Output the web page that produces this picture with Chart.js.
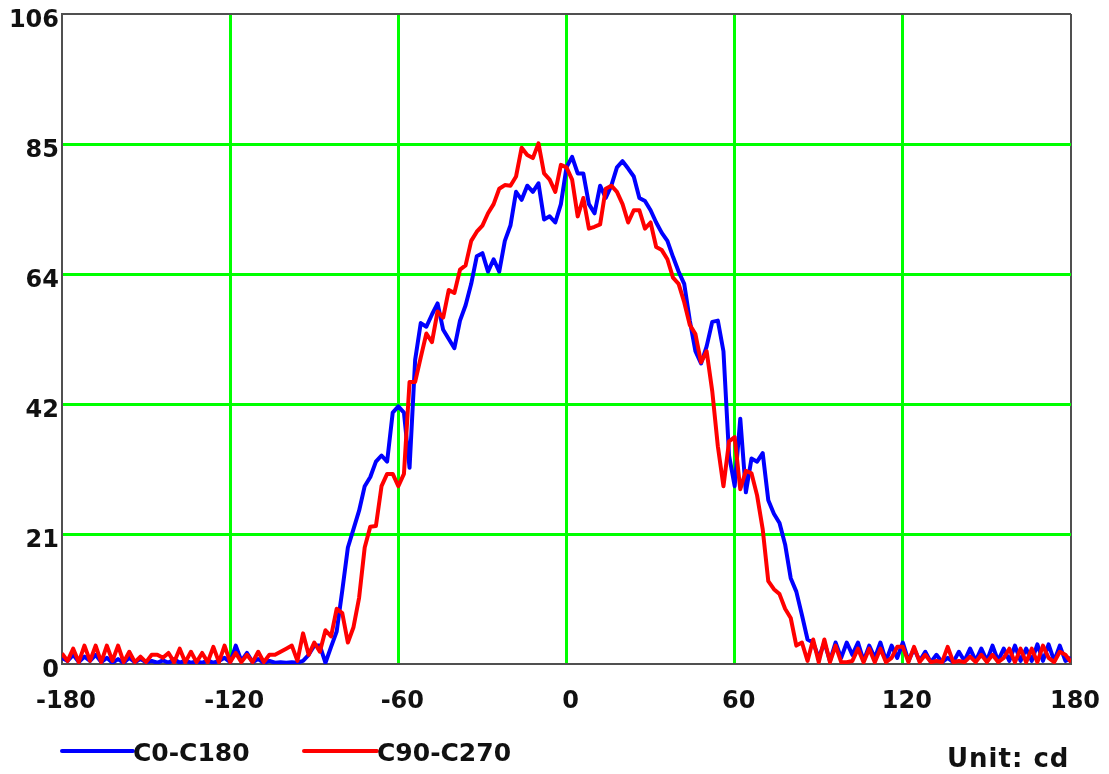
<!DOCTYPE html>
<html>
<head>
<meta charset="utf-8">
<script src="https://cdn.jsdelivr.net/npm/chart.js@4.4.1/dist/chart.umd.min.js"></script>
<style>
  html, body { margin: 0; padding: 0; background: #fff; }
  #wrap { position: relative; width: 1109px; height: 774px; }
  #chart { position: absolute; left: 0; top: 0; }
  .leg-line { position: absolute; height: 4px; border-radius: 2px; }
  .leg-text { position: absolute; font-family: "DejaVu Sans", sans-serif; font-weight: bold; font-size: 25px; line-height: 26px; color: #111; white-space: nowrap; }
  #unit { position: absolute; font-family: "DejaVu Sans", sans-serif; font-weight: bold; font-size: 26px; line-height: 26px; letter-spacing: 1px; color: #111; white-space: nowrap; }
</style>
</head>
<body>
<div id="wrap">
  <canvas id="chart" width="1109" height="774"></canvas>
  <div class="leg-line" style="left:60px; top:749px; width:75px; background:#0000ff;"></div>
  <div class="leg-text" style="left:133px; top:740px;">C0-C180</div>
  <div class="leg-line" style="left:302px; top:749px; width:77px; background:#ff0000;"></div>
  <div class="leg-text" style="left:377px; top:740px;">C90-C270</div>
  <div id="unit" style="left:947px; top:745px;">Unit: cd</div>
</div>
<script>
const angles = [
  -180,-178,-176,-174,-172,-170,-168,-166,-164,-162,
  -160,-158,-156,-154,-152,-150,-148,-146,-144,-142,
  -140,-138,-136,-134,-132,-130,-128,-126,-124,-122,
  -120,-118,-116,-114,-112,-110,-108,-106,-104,-102,
  -100,-98,-96,-94,-92,-90,-88,-86,-84,-82,
  -80,-78,-76,-74,-72,-70,-68,-66,-64,-62,
  -60,-58,-56,-54,-52,-50,-48,-46,-44,-42,
  -40,-38,-36,-34,-32,-30,-28,-26,-24,-22,
  -20,-18,-16,-14,-12,-10,-8,-6,-4,-2,
  0,2,4,6,8,10,12,14,16,18,
  20,22,24,26,28,30,32,34,36,38,
  40,42,44,46,48,50,52,54,56,58,
  60,62,64,66,68,70,72,74,76,78,
  80,82,84,86,88,90,92,94,96,98,
  100,102,104,106,108,110,112,114,116,118,
  120,122,124,126,128,130,132,134,136,138,
  140,142,144,146,148,150,152,154,156,158,
  160,162,164,166,168,170,172,174,176,178,
  180
];

const c0c180 = [
  1, 0.5, 1.5, 0.3, 1.2, 0.5, 1.5, 0.3, 1, 0.2,
  0.8, 0.2, 1, 0.3, 0.8, 0.3, 0.5, 0.2, 0.6, 0.2,
  0.8, 0.2, 0.6, 0.2, 0.4, 0.2, 0.6, 0.2, 0.5, 1,
  0.3, 3, 0.5, 1.8, 0.3, 0.8, 0.2, 0.5, 0.2, 0.3,
  0.2, 0.3, 0.2, 0.5, 1.5, 3, 3, 0.2, 2.8, 5.3,
  12, 19, 22, 25, 29, 30.5, 33, 34, 33, 41,
  42, 41, 32, 49.6, 55.6, 55, 57, 58.8, 54.5, 53,
  51.5, 56, 58.5, 62, 66.5, 67, 64, 66, 64, 69,
  71.5, 77, 75.7, 78, 77, 78.4, 72.5, 73, 72, 75,
  81, 82.7, 80, 80, 75, 73.5, 78, 76, 78, 81,
  82, 80.8, 79.5, 76, 75.5, 74, 72, 70.3, 69, 66.4,
  64, 62, 56, 51, 49, 51.8, 55.8, 56, 51, 34,
  29, 40, 28, 33.5, 33, 34.4, 26.7, 24.5, 23, 19.5,
  14, 11.8, 8, 4, 3.5, 1, 3.5, 0.5, 3.5, 1,
  3.5, 1.5, 3.5, 0.5, 3, 1, 3.5, 0.5, 3, 1,
  3.5, 0.5, 2.5, 0.5, 2, 0.3, 1.5, 0.3, 1, 0.3,
  2, 0.5, 2.5, 0.5, 2.5, 0.5, 3, 0.5, 2.5, 0.5,
  3, 0.5, 2.5, 0.5, 3.2, 0.5, 3.2, 0.5, 3, 0.5,
  1
];

const c90c270 = [
  1.7, 0.5, 2.5, 0.3, 3, 0.5, 3, 0.3, 3, 0.5,
  3, 0.3, 2, 0.3, 1.2, 0.3, 1.5, 1.5, 1, 1.8,
  0.3, 2.5, 0.3, 2, 0.3, 1.8, 0.3, 2.8, 0.3, 3,
  0.3, 1.8, 0.3, 1.5, 0.3, 2, 0.3, 1.5, 1.5, 2,
  2.5, 3, 0.5, 5, 1.5, 3.5, 2, 5.5, 4.5, 9,
  8.3, 3.5, 6, 10.8, 19, 22.4, 22.5, 29, 31, 31,
  29, 31, 46, 46, 50, 53.9, 52.5, 57.5, 56.5, 61,
  60.5, 64.3, 65, 69, 70.5, 71.5, 73.5, 75, 77.5, 78.1,
  78, 79.5, 84.2, 83, 82.5, 84.9, 80, 79, 77, 81.4,
  81, 79, 73, 76, 71, 71.3, 71.7, 77.5, 78, 77,
  75, 72, 74, 74, 71, 72, 68, 67.5, 66, 63,
  62, 59, 55.3, 53.8, 49.2, 51, 44.5, 35.5, 29, 36.3,
  37, 28.5, 31.5, 31.1, 27.5, 22, 13.5, 12.2, 11.4, 9,
  7.5, 3, 3.5, 0.5, 4, 0.3, 4, 0.3, 3, 0.3,
  0.3, 0.5, 2.5, 0.3, 2.5, 0.3, 2.5, 0.3, 1, 2.8,
  2.8, 0.3, 2.8, 0.3, 1.5, 0.3, 0.5, 0.3, 2.8, 0.3,
  0.5, 0.3, 1.2, 0.3, 1.5, 0.3, 1.5, 0.3, 1, 2.5,
  0.3, 2.5, 0.3, 2.5, 0.3, 3, 1, 0.3, 2, 1.5,
  0.3
];

const xTickValues = [-180, -120, -60, 0, 60, 120, 180];
const yTickValues = [0, 21.2, 42.4, 63.6, 84.8, 106];
const yTickLabels = ['0', '21', '42', '64', '85', '106'];

const GRID_GREEN = '#00ff00';
const AXIS_GRAY = '#505050';

function toPoints(vals) {
  return angles.map((a, i) => ({ x: a, y: vals[i] }));
}

function zeroPad(scale) {
  scale.paddingTop = 0;
  scale.paddingBottom = 0;
  scale.paddingLeft = 0;
  scale.paddingRight = 0;
}

const tickFont = { family: '"DejaVu Sans", sans-serif', size: 24, weight: 'bold' };

new Chart(document.getElementById('chart'), {
  type: 'line',
  data: {
    datasets: [
      {
        label: 'C0-C180',
        data: toPoints(c0c180),
        borderColor: '#0000ff',
        borderWidth: 4,
        pointRadius: 0,
        tension: 0,
        borderJoinStyle: 'round',
        order: 1
      },
      {
        label: 'C90-C270',
        data: toPoints(c90c270),
        borderColor: '#ff0000',
        borderWidth: 4,
        pointRadius: 0,
        tension: 0,
        borderJoinStyle: 'round',
        order: 0
      }
    ]
  },
  options: {
    responsive: false,
    animation: false,
    events: [],
    layout: { padding: { left: 0, right: 38, top: 14, bottom: 60 } },
    plugins: { legend: { display: false }, tooltip: { enabled: false } },
    scales: {
      x: {
        type: 'linear',
        min: -180,
        max: 180,
        afterBuildTicks: (scale) => { scale.ticks = xTickValues.map(v => ({ value: v })); },
        afterFit: (scale) => { scale.height = 50; zeroPad(scale); },
        ticks: {
          color: '#111',
          font: tickFont,
          padding: 23,
          labelOffset: 4,
          maxRotation: 0,
          autoSkip: false,
          callback: (v) => String(v)
        },
        grid: {
          drawTicks: false,
          color: (ctx) => (ctx.tick && (ctx.tick.value === -180 || ctx.tick.value === 180)) ? AXIS_GRAY : GRID_GREEN,
          lineWidth: (ctx) => (ctx.tick && (ctx.tick.value === -180 || ctx.tick.value === 180)) ? 2 : 3
        },
        border: { color: AXIS_GRAY, width: 2 }
      },
      y: {
        type: 'linear',
        min: 0,
        max: 106,
        afterBuildTicks: (scale) => { scale.ticks = yTickValues.map(v => ({ value: v })); },
        afterFit: (scale) => { scale.width = 62; zeroPad(scale); },
        ticks: {
          color: '#111',
          font: tickFont,
          padding: 3,
          labelOffset: 7,
          autoSkip: false,
          callback: (v, i) => yTickLabels[i]
        },
        grid: {
          drawTicks: false,
          color: (ctx) => (ctx.tick && (ctx.tick.value === 0 || ctx.tick.value === 106)) ? AXIS_GRAY : GRID_GREEN,
          lineWidth: (ctx) => (ctx.tick && (ctx.tick.value === 0 || ctx.tick.value === 106)) ? 2 : 3
        },
        border: { color: AXIS_GRAY, width: 2 }
      }
    }
  }
});
</script>
</body>
</html>
